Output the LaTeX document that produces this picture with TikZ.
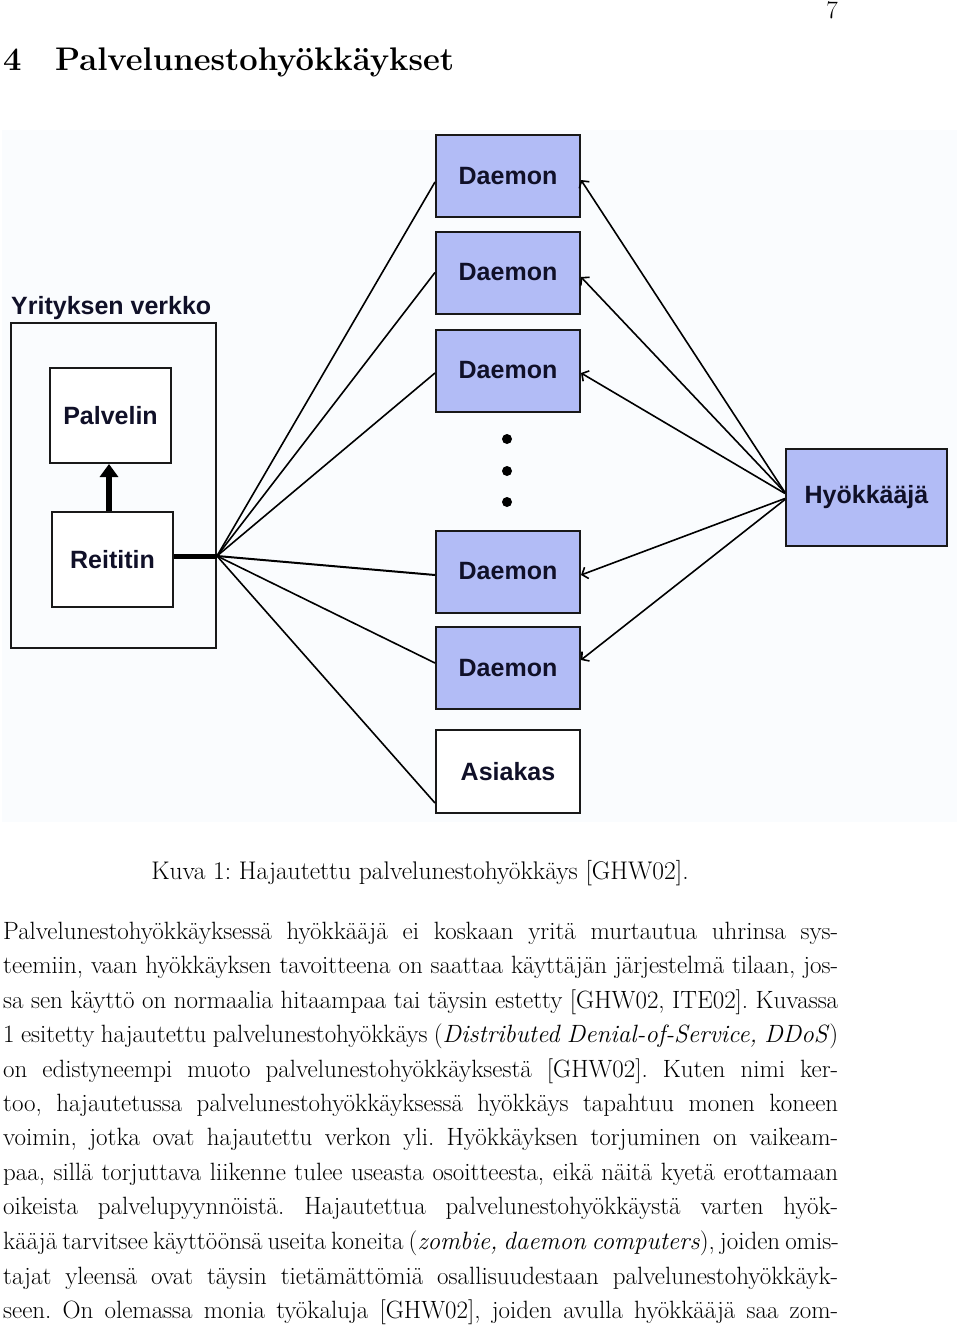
\documentclass[tikz,border=0pt]{standalone}
\usepackage{fontspec}
\newfontfamily\diagfont{Liberation Sans}
\usetikzlibrary{arrows.meta,calc}
\definecolor{boxblue}{RGB}{178,188,246}
\definecolor{figbg}{RGB}{250,252,254}
\definecolor{ink}{RGB}{16,16,40}
\frenchspacing
\begin{document}
\begin{tikzpicture}[x=1pt,y=-1pt,
  box/.style={draw=black!90, line width=2pt, minimum width=144pt, minimum height=82pt, inner sep=0pt,
    font=\diagfont\bfseries\fontsize{25}{30}\selectfont, text=ink},
  dbox/.style={box, fill=boxblue},
  wbox/.style={box, fill=white},
  link/.style={line width=1.6pt, black},
  attack/.style={link, {Straight Barb[length=5pt,width=12pt]}-},
  bodyline/.style={anchor=base west, inner sep=0pt, font=\fontsize{25}{30}\selectfont},
]
\useasboundingbox (0,0) rectangle (960,1333);
\fill[white] (0,0) rectangle (960,1333);
\fill[figbg] (2,130) rectangle (957,822);

% --- heading and page number
\node[anchor=base west, inner sep=0pt, font=\bfseries\fontsize{32.7}{40}\selectfont] (hnum) at (3,70) {4};
\node[anchor=base west, inner sep=0pt, font=\bfseries\fontsize{32.7}{40}\selectfont] (htxt) at (55,70) {Palvelunestohyökkäykset};
\node[anchor=base east, inner sep=0pt, font=\fontsize{25}{30}\selectfont] (pg) at (838,19) {7};

% --- company network
\node[draw=black!90, line width=2pt, minimum width=205pt, minimum height=325pt, inner sep=0pt] (net) at (113.5,485.5) {};
\node[anchor=base west, inner sep=0pt, font=\diagfont\bfseries\fontsize{25}{30}\selectfont, text=ink] (netlbl) at (11,314) {Yrityksen verkko};
\node[wbox, minimum width=121pt, minimum height=95pt] (palv) at (110.5,415.5) {Palvelin};
\node[wbox, minimum width=121pt, minimum height=95pt] (reit) at (112.5,559.5) {Reititin};
\coordinate (hub) at (217,556);

% --- daemons, client, attacker
\node[dbox] (d1) at (508,176) {Daemon};
\node[dbox] (d2) at (508,272.5) {Daemon};
\node[dbox] (d3) at (508,370.5) {Daemon};
\node[dbox] (d4) at (508,571.5) {Daemon};
\node[dbox] (d5) at (508,668) {Daemon};
\node[wbox, minimum height=83pt] (as) at (508,771.5) {Asiakas};
\node[dbox, minimum width=161pt, minimum height=97pt] (hy) at (866.5,497.5) {Hyökkääjä};

\fill[black] (507,439) circle (5pt);
\fill[black] (507,471) circle (5pt);
\fill[black] (507,502) circle (5pt);

% --- router connections
\draw[line width=6pt, -{Triangle[length=13pt,width=18pt]}] ([xshift=-3.5pt]reit.north) -- ([xshift=-3.5pt]reit.north |- palv.south);
\draw[line width=5pt] (reit.east |- hub) -- (hub);
\draw[link] (hub) -- ([yshift=-6pt]d1.west);
\draw[link] (hub) -- (d2.west);
\draw[link] (hub) -- ([yshift=-2.5pt]d3.west);
\draw[link, line width=2pt] (hub) -- ([yshift=-3.5pt]d4.west);
\draw[link] (hub) -- ([yshift=5pt]d5.west);
\draw[link] (hub) -- ([yshift=11pt]as.south west);

% --- attacker connections
\draw[attack] ([yshift=-4pt]d1.east) -- ([yshift=5pt]hy.west);
\draw[attack] ([yshift=-4.5pt]d2.east) -- ([yshift=5pt]hy.west);
\draw[attack] ([yshift=-2.5pt]d3.east) -- ([yshift=4pt]hy.west);
\draw[attack] ([yshift=-3.5pt]d4.east) -- ([yshift=-1pt]hy.west);
\draw[attack] ([yshift=8pt]d5.east) -- ([yshift=-2pt]hy.west);

% --- caption
\node[anchor=base, inner sep=0pt, font=\fontsize{25.5}{30}\selectfont] (cap) at (420,879) {Kuva 1: Hajautettu palvelunestohyökkäys [GHW02].};

% --- body text
\node[bodyline] (l1) at (3,939) {\makebox[835pt][s]{Palvelunestohyökkäyksessä hyökkääjä ei koskaan yritä murtautua uhrinsa sys-}};
\node[bodyline] (l2) at (3,973.5) {\makebox[835pt][s]{teemiin, vaan hyökkäyksen tavoitteena on saattaa käyttäjän järjestelmä tilaan, jos-}};
\node[bodyline] (l3) at (3,1008) {\makebox[835pt][s]{sa sen käyttö on normaalia hitaampaa tai täysin estetty [GHW02, ITE02]. Kuvassa}};
\node[bodyline] (l4) at (3,1042.5) {\makebox[835pt][s]{1 esitetty hajautettu palvelunestohyökkäys (\textit{Distributed Denial-of-Service, DDoS})}};
\node[bodyline] (l5) at (3,1077) {\makebox[835pt][s]{on edistyneempi muoto palvelunestohyökkäyksestä [GHW02]. Kuten nimi ker-}};
\node[bodyline] (l6) at (3,1111) {\makebox[835pt][s]{too, hajautetussa palvelunestohyökkäyksessä hyökkäys tapahtuu monen koneen}};
\node[bodyline] (l7) at (3,1145.5) {\makebox[835pt][s]{voimin, jotka ovat hajautettu verkon yli. Hyökkäyksen torjuminen on vaikeam-}};
\node[bodyline] (l8) at (3,1180) {\makebox[835pt][s]{paa, sillä torjuttava liikenne tulee useasta osoitteesta, eikä näitä kyetä erottamaan}};
\node[bodyline] (l9) at (3,1214.5) {\makebox[835pt][s]{oikeista palvelupyynnöistä. Hajautettua palvelunestohyökkäystä varten hyök-}};
\node[bodyline] (l10) at (3,1249) {\makebox[835pt][s]{kääjä tarvitsee käyttöönsä useita koneita (\textit{zombie, daemon computers}), joiden omis-}};
\node[bodyline] (l11) at (3,1284) {\makebox[835pt][s]{tajat yleensä ovat täysin tietämättömiä osallisuudestaan palvelunestohyökkäyk-}};
\node[bodyline] (l12) at (3,1318.5) {\makebox[835pt][s]{seen. On olemassa monia työkaluja [GHW02], joiden avulla hyökkääjä saa zom-}};
\end{tikzpicture}
\end{document}
